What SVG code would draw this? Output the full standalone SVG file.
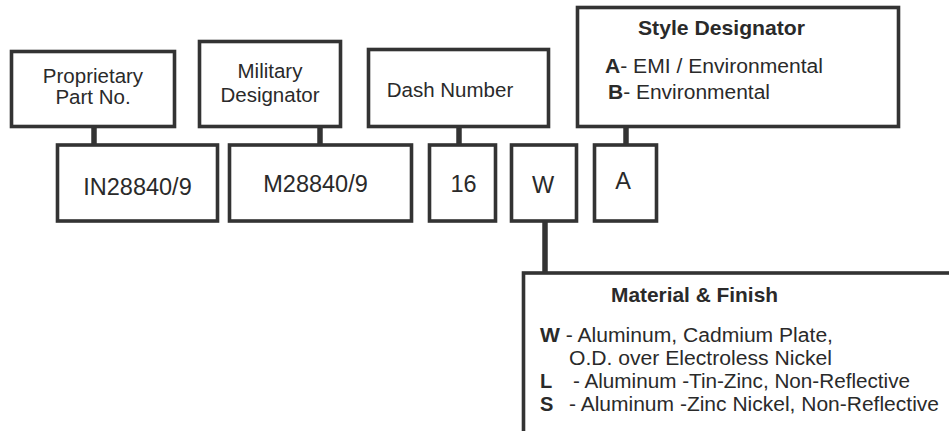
<svg xmlns="http://www.w3.org/2000/svg" width="949" height="431" viewBox="0 0 949 431">
<style>
.box{fill:#fff;stroke:#333;stroke-width:3.6}
.conn{stroke:#333;stroke-width:5.5;fill:none}
text{font-family:"Liberation Sans",Arial,sans-serif;fill:#2a2a2a}
.lbl{font-size:20.5px;text-anchor:middle}
.code{font-size:23.5px;text-anchor:middle}
.ttl{font-size:21px;font-weight:bold}
.body{font-size:20px}
.b{font-weight:bold}
</style>
<rect width="949" height="431" fill="#fff"/>
<g id="connectors">
<line class="conn" x1="94" y1="127" x2="94" y2="145"/>
<line class="conn" x1="320" y1="127" x2="320" y2="145"/>
<line class="conn" x1="459" y1="127" x2="459" y2="145"/>
<line class="conn" x1="626" y1="127" x2="626" y2="145"/>
<line class="conn" x1="545" y1="221" x2="545" y2="273"/>
</g>
<g id="proprietary">
<rect class="box" x="11.5" y="51.5" width="163" height="75"/>
<text class="lbl" x="93" y="83" font-size="20">Proprietary</text>
<text class="lbl" x="93" y="104" font-size="20">Part No.</text>
</g>
<g id="military">
<rect class="box" x="199.5" y="41.5" width="141" height="85"/>
<text class="lbl" x="270" y="78">Military</text>
<text class="lbl" x="270" y="102">Designator</text>
</g>
<g id="dash">
<rect class="box" x="368.5" y="49.5" width="180" height="77"/>
<text class="lbl" x="450" y="97">Dash Number</text>
</g>
<g id="style">
<rect class="box" x="577.5" y="7.5" width="321" height="119"/>
<text class="ttl" x="638" y="35" textLength="167" lengthAdjust="spacingAndGlyphs">Style Designator</text>
<text class="body" x="605" y="73" textLength="218" lengthAdjust="spacingAndGlyphs"><tspan class="b">A</tspan>- EMI / Environmental</text>
<text class="body" x="608" y="99" textLength="162" lengthAdjust="spacingAndGlyphs"><tspan class="b">B</tspan>- Environmental</text>
</g>
<g id="code-in">
<rect class="box" x="57.5" y="145" width="160" height="76"/>
<text class="code" x="137.5" y="195">IN28840/9</text>
</g>
<g id="code-m">
<rect class="box" x="229.5" y="145" width="182" height="76"/>
<text class="code" x="315.5" y="192">M28840/9</text>
</g>
<g id="code-16">
<rect class="box" x="429.5" y="145" width="66" height="76"/>
<text class="code" x="463.5" y="192">16</text>
</g>
<g id="code-w">
<rect class="box" x="511.5" y="145" width="65" height="76"/>
<text class="code" x="543" y="193">W</text>
</g>
<g id="code-a">
<rect class="box" x="594.5" y="145" width="62" height="76"/>
<text class="code" x="623" y="189">A</text>
</g>
<g id="material">
<rect class="box" x="523.5" y="273" width="440" height="200"/>
<text class="ttl" x="611" y="302" textLength="167" lengthAdjust="spacingAndGlyphs">Material &amp; Finish</text>
<text class="body" x="540" y="342" textLength="293" lengthAdjust="spacingAndGlyphs"><tspan class="b">W</tspan> - Aluminum, Cadmium Plate,</text>
<text class="body" x="569" y="365" textLength="263" lengthAdjust="spacingAndGlyphs">O.D. over Electroless Nickel</text>
<text class="body b" x="540" y="388">L</text>
<text class="body" x="573" y="388" textLength="337" lengthAdjust="spacingAndGlyphs">- Aluminum -Tin-Zinc, Non-Reflective</text>
<text class="body b" x="540" y="411">S</text>
<text class="body" x="569" y="411" textLength="370" lengthAdjust="spacingAndGlyphs">- Aluminum -Zinc Nickel, Non-Reflective</text>
</g>
</svg>
